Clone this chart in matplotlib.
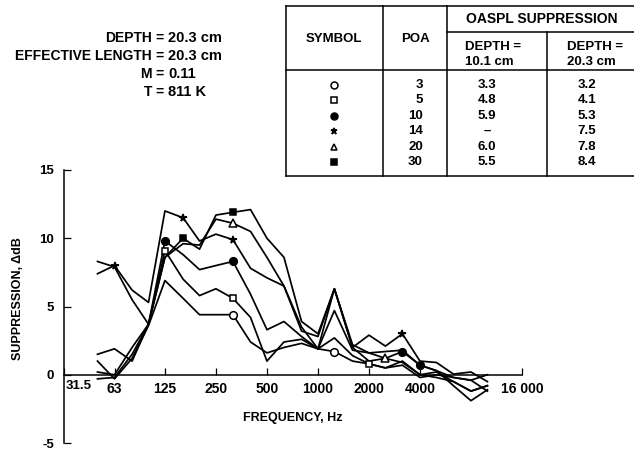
import numpy as np
import matplotlib
matplotlib.use("Agg")
import matplotlib.pyplot as plt

# 1/3-octave band centre frequencies (Hz)
freqs = [50, 63, 80, 100, 125, 160, 200, 250, 315, 400, 500, 630, 800,
         1000, 1250, 1600, 2000, 2500, 3150, 4000, 5000, 6300, 8000, 10000]

# suppression (dB) per probe position (POA)
poa3 = [1.0, -0.3, 1.2, 3.6, 6.9, 5.6, 4.4, 4.4, 4.4, 2.4, 1.6, 2.0, 2.3,
        1.9, 1.7, 1.0, 0.8, 0.5, 1.0, 0.0, -0.2, -0.5, -1.2, -0.8]
poa5 = [-0.3, -0.2, 1.5, 3.7, 9.1, 7.0, 5.8, 6.3, 5.6, 4.2, 1.0, 2.4, 2.6,
        1.9, 2.7, 1.4, 0.8, 0.5, 0.7, -0.2, 0.0, -0.2, -0.4, -1.2]
poa10 = [1.5, 1.9, 1.0, 3.7, 9.8, 8.8, 7.7, 8.0, 8.3, 5.9, 3.3, 3.9, 2.8,
         1.9, 4.7, 1.8, 1.6, 1.2, 1.7, 0.7, 0.3, -0.8, -1.9, -1.1]
poa14 = [7.4, 8.0, 6.2, 5.3, 12.0, 11.5, 9.8, 10.3, 9.9, 7.8, 7.1, 6.5, 3.5,
         1.9, 6.3, 2.0, 2.9, 2.1, 3.0, 1.0, 0.9, 0.05, 0.2, -0.5]
poa20 = [0.2, 0.0, 2.0, 3.7, 8.6, 9.6, 9.5, 11.4, 11.1, 10.5, 8.6, 6.5, 3.2,
         2.8, 6.3, 2.0, 1.0, 1.2, 0.9, 0.0, 0.2, -0.5, -1.2, -0.8]
poa30 = [8.3, 7.9, 5.5, 3.7, 8.6, 10.0, 9.2, 11.7, 11.9, 12.1, 10.0, 8.6, 3.9,
         3.0, 6.3, 2.2, 1.6, 1.7, 1.8, 0.7, 0.3, -0.2, -0.4, 0.0]

# which points carry a symbol
mark_idx = {
    "3": [8, 14],
    "5": [4, 8, 16],
    "10": [4, 8, 18, 19],
    "14": [1, 5, 8, 18],
    "20": [8, 17],
    "30": [5, 8],
}

poa_labels = ["3", "5", "10", "14", "20", "30"]
oaspl_10 = ["3.3", "4.8", "5.9", "\u2013", "6.0", "5.5"]
oaspl_20 = ["3.2", "4.1", "5.3", "7.5", "7.8", "8.4"]

xtick_vals = [31.5, 63, 125, 250, 500, 1000, 2000, 4000, 16000]
xtick_labels = ["31.5", "63", "125", "250", "500", "1000", "2000", "4000", "16 000"]
ytick_vals = [-5, 0, 5, 10, 15]
ytick_labels = ["-5", "0", "5", "10", "15"]

series = [poa3, poa5, poa10, poa14, poa20, poa30]
styles = [
    dict(marker="o", mfc="white", ms=5.5),
    dict(marker="s", mfc="white", ms=5),
    dict(marker="o", mfc="black", ms=5.5),
    dict(marker="*", mfc="black", ms=5.5),
    dict(marker="^", mfc="white", ms=5.5),
    dict(marker="s", mfc="black", ms=5),
]

plt.rcParams["font.family"] = ["Liberation Sans", "DejaVu Sans"]
plt.rcParams["font.weight"] = "bold"

W, H = 634, 451
fig = plt.figure(figsize=(W / 100, H / 100), dpi=100)

# main axes (pixel layout of the reference)
left, right, top, bottom = 63.5, 522, 170, 443
ax = fig.add_axes([left / W, 1 - bottom / H, (right - left) / W, (bottom - top) / H])
ax.set_facecolor("none")

for vals, st, key in zip(series, styles, poa_labels):
    f = np.array(freqs, dtype=float)
    v = np.array(vals, dtype=float)
    ax.plot(f, v, color="black", lw=1.25, zorder=2)
    idx = mark_idx[key]
    ax.plot(f[idx], v[idx], ls="none", marker=st["marker"], mfc=st["mfc"],
            mec="black", mew=1.1, ms=st["ms"], zorder=3)

ax.set_xscale("log", base=2)
ax.set_xlim(31.5, 16000)
ax.set_ylim(-5, 15)
ax.minorticks_off()
ax.set_xticks(xtick_vals)
# first label sits to the right of the y axis, drawn separately below
ax.set_xticklabels([""] + xtick_labels[1:], fontsize=9.5, fontweight="bold")
ax.annotate(xtick_labels[0], xy=(xtick_vals[0], 0), xytext=(1.5, -3.6),
            textcoords="offset points", ha="left", va="top",
            fontsize=9.5, fontweight="bold")
ax.set_yticks(ytick_vals)
ax.set_yticklabels(ytick_labels, fontsize=9.5, fontweight="bold")

ax.spines["top"].set_visible(False)
ax.spines["right"].set_visible(False)
ax.spines["bottom"].set_position(("data", 0))
for s in ("left", "bottom"):
    ax.spines[s].set_linewidth(1.1)
ax.tick_params(axis="x", direction="in", length=5, width=0.9, pad=5)
ax.tick_params(axis="y", direction="in", length=5, width=0.9, pad=7)

ax.set_xlabel("FREQUENCY, Hz", fontsize=9, fontweight="bold")
ax.xaxis.set_label_coords(0.5, 1 - (412 - top) / (bottom - top))
ax.set_ylabel("SUPPRESSION, \u0394dB", fontsize=9, fontweight="bold")
ax.yaxis.set_label_coords(-(left - 24) / (right - left), 1 - (299 - top) / (bottom - top))

# overlay in pixel coordinates for the header text and table
ov = fig.add_axes([0, 0, 1, 1])
ov.set_xlim(0, W)
ov.set_ylim(H, 0)
ov.axis("off")
ov.set_zorder(-1)

hdr_left = ["DEPTH", "EFFECTIVE LENGTH", "M", "T"]
hdr_right = ["20.3 cm", "20.3 cm", "0.11", "811 K"]
for i, (a, b) in enumerate(zip(hdr_left, hdr_right)):
    y = 38 + i * 18
    ov.text(152, y, a, ha="right", va="center", fontsize=10, fontweight="bold")
    ov.text(160, y, "=", ha="center", va="center", fontsize=10, fontweight="bold")
    ov.text(168, y, b, ha="left", va="center", fontsize=10.5, fontweight="bold")

# table frame
lk = dict(color="black", lw=1.1)
ov.plot([286, W], [6, 6], **lk)
ov.plot([286, W], [176, 176], **lk)
ov.plot([286, W], [70, 70], **lk)
ov.plot([447, W], [32, 32], **lk)
ov.plot([286, 286], [6, 176], **lk)
ov.plot([383, 383], [6, 176], **lk)
ov.plot([447, 447], [6, 176], **lk)
ov.plot([547, 547], [32, 176], **lk)

tk = dict(fontsize=9.5, fontweight="bold")
ov.text(334, 39, "SYMBOL", ha="center", va="center", **tk)
ov.text(415, 39, "POA", ha="center", va="center", **tk)
ov.text(542, 19, "OASPL SUPPRESSION", ha="center", va="center", fontsize=10,
        fontweight="bold")
ov.text(465, 47, "DEPTH =", ha="left", va="center", **tk)
ov.text(465, 62, "10.1 cm", ha="left", va="center", **tk)
ov.text(567, 47, "DEPTH =", ha="left", va="center", **tk)
ov.text(567, 62, "20.3 cm", ha="left", va="center", **tk)

for i, st in enumerate(styles):
    y = 85 + i * 15.4
    ov.plot([334], [y], ls="none", marker=st["marker"], mfc=st["mfc"],
            mec="black", mew=1.1, ms=st["ms"] - 0.5)
    ov.text(423, y, poa_labels[i], ha="right", va="center", **tk)
    ov.text(487, y, oaspl_10[i], ha="center", va="center", **tk)
    ov.text(587, y, oaspl_20[i], ha="center", va="center", **tk)

fig.savefig("out.png", dpi=100)
